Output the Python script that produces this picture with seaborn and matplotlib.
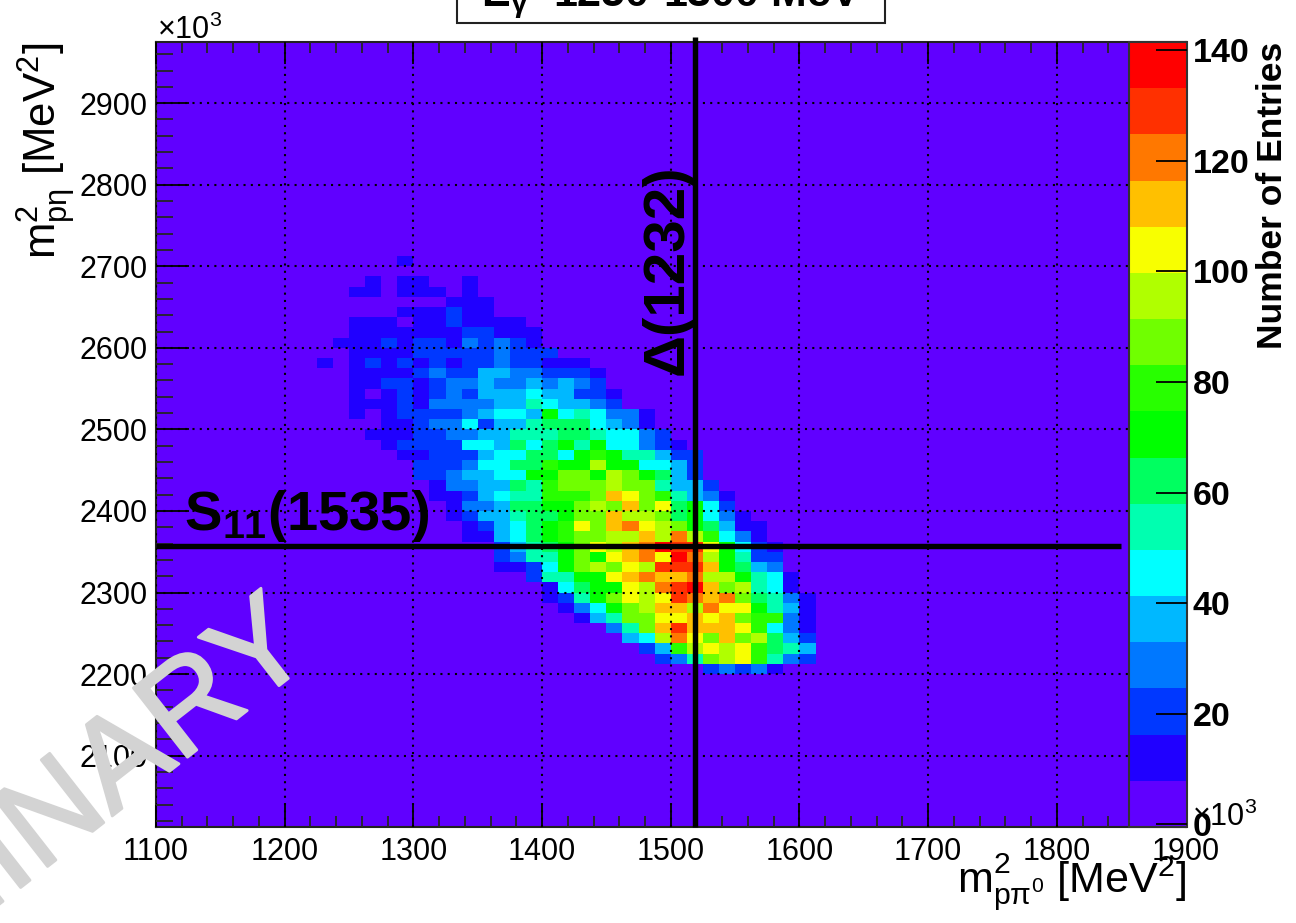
import numpy as np
import pandas as pd
import matplotlib
matplotlib.use('Agg')
import matplotlib.pyplot as plt
import matplotlib.patheffects as pe
from matplotlib.colors import ListedColormap
from matplotlib.patches import Rectangle
import seaborn as sns

# colour bands of the palette, bottom to top
band_colors = ['#6000ff', '#2000ff', '#0038ff', '#0078ff', '#00b8ff', '#00ffff',
               '#00ffb0', '#00ff60', '#00ff00', '#28ff00', '#70ff00', '#b0ff00',
               '#f8ff00', '#ffc000', '#ff7800', '#ff3000', '#ff0000']

x_ticks = [1100, 1200, 1300, 1400, 1500, 1600, 1700, 1800, 1900]
y_ticks = [2100, 2200, 2300, 2400, 2500, 2600, 2700, 2800, 2900]
z_ticks = [0, 20, 40, 60, 80, 100, 120, 140]

delta_m2 = 1519
s11_m2 = 2357

# row number (bottom edge = 2000 + 12.5*row), first x bin (left edge = 1100 + 12.5*bin)
row_ids = [16, 17, 18, 19, 20, 21, 22, 23, 24, 25, 26, 27, 28, 29, 30, 31, 32, 33, 34, 35, 36,
           37, 38, 39, 40, 41, 42, 43, 44, 45, 46, 47, 48, 49, 50, 51, 52, 53, 54, 56]
row_first_bin = [34, 31, 30, 29, 28, 26, 25, 24, 24, 23, 21, 21, 21, 19, 19, 18, 18, 17, 17, 16, 16,
                 15, 14, 13, 14, 12, 12, 12, 12, 12, 10, 12, 11, 12, 12, 15, 18, 12, 13, 15]
# colour band
row_bands = [
    [2, 3, 2, 3, 1],
    [2, 3, 6, 10, 11, 12, 9, 6, 3, 2],
    [2, 4, 9, 11, 12, 11, 12, 9, 7, 6, 4],
    [4, 5, 11, 14, 12, 10, 13, 10, 11, 7, 4, 2],
    [3, 6, 10, 13, 15, 13, 13, 13, 12, 9, 5, 3, 1],
    [1, 4, 6, 10, 10, 12, 12, 13, 12, 13, 10, 9, 9, 3, 1],
    [1, 3, 5, 8, 10, 11, 13, 13, 11, 14, 12, 12, 8, 6, 4, 1],
    [1, 2, 6, 8, 10, 12, 11, 12, 15, 14, 13, 14, 10, 7, 6, 3, 1],
    [1, 5, 7, 8, 8, 12, 11, 14, 15, 16, 13, 10, 11, 6, 5, 1],
    [2, 6, 6, 8, 8, 12, 13, 14, 13, 13, 14, 11, 11, 8, 6, 5, 1],
    [1, 1, 2, 5, 8, 10, 11, 10, 12, 11, 15, 15, 15, 13, 8, 7, 4, 3],
    [2, 3, 6, 6, 8, 10, 8, 12, 13, 14, 12, 16, 14, 11, 8, 6, 2, 2],
    [2, 4, 6, 7, 8, 10, 12, 11, 13, 14, 16, 15, 15, 12, 8, 5, 2, 1],
    [1, 1, 4, 5, 7, 8, 9, 10, 10, 11, 11, 13, 11, 14, 11, 9, 5, 3, 1],
    [1, 2, 4, 5, 7, 8, 9, 12, 10, 13, 14, 12, 11, 10, 8, 7, 4, 1, 1],
    [1, 2, 4, 4, 6, 7, 7, 8, 10, 10, 13, 11, 11, 10, 7, 8, 5, 3, 1],
    [1, 3, 3, 4, 7, 7, 8, 8, 10, 11, 10, 13, 10, 12, 7, 8, 5, 2],
    [1, 1, 2, 4, 5, 6, 6, 9, 9, 9, 10, 13, 12, 10, 9, 6, 4, 3, 1],
    [1, 3, 3, 4, 4, 7, 6, 9, 10, 10, 10, 11, 10, 10, 6, 4, 4, 2],
    [2, 2, 3, 4, 4, 5, 5, 8, 8, 10, 10, 8, 11, 10, 8, 7, 4, 2],
    [2, 2, 2, 3, 5, 5, 7, 7, 9, 8, 8, 11, 8, 8, 5, 5, 4, 2],
    [1, 1, 2, 2, 2, 4, 5, 5, 7, 7, 5, 8, 9, 8, 6, 6, 4, 2, 2],
    [1, 2, 2, 2, 2, 5, 5, 4, 7, 5, 7, 8, 6, 8, 5, 5, 3, 2, 1],
    [1, 1, 1, 2, 2, 3, 3, 4, 4, 6, 6, 6, 7, 7, 6, 5, 5, 3, 2],
    [1, 1, 2, 3, 3, 5, 2, 4, 4, 6, 7, 7, 7, 5, 4, 3, 1],
    [1, 0, 1, 2, 2, 2, 2, 3, 4, 5, 5, 4, 8, 5, 6, 5, 3, 3, 1],
    [1, 1, 1, 2, 1, 3, 3, 3, 3, 4, 4, 6, 5, 4, 4, 3, 2],
    [1, 0, 1, 2, 1, 2, 3, 2, 4, 4, 4, 5, 4, 4, 2, 2, 1],
    [1, 1, 2, 2, 1, 2, 3, 3, 4, 3, 3, 4, 3, 4, 3, 2],
    [1, 1, 1, 1, 2, 3, 2, 2, 4, 4, 3, 3, 2, 2, 2, 1],
    [1, 0, 1, 2, 1, 2, 1, 2, 1, 2, 2, 3, 2, 2, 1, 1, 1],
    [1, 1, 1, 1, 2, 2, 2, 2, 2, 3, 2, 2, 2],
    [1, 1, 1, 2, 1, 2, 2, 1, 3, 2, 3, 2, 1],
    [1, 1, 1, 1, 1, 1, 1, 2, 2, 1, 1, 1],
    [1, 1, 1, 0, 1, 1, 2, 1, 1, 1, 1],
    [1, 1, 1, 2, 1, 1],
    [1, 1, 1],
    [1, 1, 0, 1, 1, 1, 0, 1],
    [1, 0, 1, 1, 0, 0, 1],
    [1],
]

W, H = 1296, 923
BIN = 12.5
X0, Y0 = 1100, 2012.5
NX, NY = 64, 77
Z0, Z1 = -0.5, 141.5

sns.set_theme(style='ticks')
plt.rcParams['font.family'] = ['Liberation Sans', 'DejaVu Sans']
plt.rcParams['mathtext.fontset'] = 'custom'
plt.rcParams['mathtext.rm'] = 'Liberation Sans'
plt.rcParams['mathtext.it'] = 'Liberation Sans'
plt.rcParams['mathtext.bf'] = 'Liberation Sans:bold'
plt.rcParams['mathtext.default'] = 'regular'


def box(left, top, right, bottom):
    return [left / W, 1 - bottom / H, (right - left) / W, (bottom - top) / H]


def cx(v):
    return (np.asarray(v, dtype=float) - X0) / BIN


def cy(v):
    return (np.asarray(v, dtype=float) - Y0) / BIN


def fpos(px, py):
    return px / W, 1 - py / H


# cell counts from the bands
step = (Z1 - Z0) / len(band_colors)
grid = np.zeros((NY, NX))
grid[:] = Z0 + step / 2
for r, first, bands in zip(row_ids, row_first_bin, row_bands):
    for i, b in enumerate(bands):
        grid[r - 1, first + i] = Z0 + (b + 0.5) * step
df = pd.DataFrame(grid)

fig = plt.figure(figsize=(W / 100, H / 100), dpi=100)
ax = fig.add_axes(box(156, 42, 1185.5, 827))
cax = fig.add_axes(box(1129, 42, 1187, 827))

sns.heatmap(df, ax=ax, cbar_ax=cax, cmap=ListedColormap(band_colors), vmin=Z0, vmax=Z1,
            xticklabels=False, yticklabels=False, cbar_kws={'ticks': z_ticks})
ax.set_xlim(0, NX)
ax.set_ylim(0, NY)
ax.set_xlabel('')
ax.set_ylabel('')

# axis ticks
ax.set_xticks(cx(x_ticks))
ax.set_xticklabels([str(v) for v in x_ticks])
ax.set_yticks(cy(y_ticks))
ax.set_yticklabels([str(v) for v in y_ticks], rotation=0)
ax.set_xticks(cx(np.arange(1100, 1901, 20)), minor=True)
ax.set_yticks(cy(np.arange(2020, 2976, 20)), minor=True)
ax.tick_params(axis='x', which='major', direction='in', length=16, width=1.3, top=True, bottom=True,
               labelsize=22, pad=7, colors='black')
ax.tick_params(axis='x', which='minor', direction='in', length=8, width=1.3, top=True, bottom=True)
ax.tick_params(axis='y', which='major', direction='in', length=24, width=1.3, left=True, right=False,
               labelsize=22, pad=6, colors='black')
ax.tick_params(axis='y', which='minor', direction='in', length=12, width=1.3, left=True, right=False)
ax.grid(True, which='major', color='black', linewidth=1.5, linestyle=(0, (1, 2.5)))
ax.set_axisbelow(False)
for sp in ax.spines.values():
    sp.set_visible(True)
    sp.set_linewidth(1.5)
    sp.set_color('#222222')

# colour scale
cb = ax.collections[0].colorbar
cax.set_axisbelow(False)
cax.tick_params(axis='y', direction='in', length=22.5, width=1.3, right=True, left=False, labelsize=24.5,
                pad=4, colors='black')
for lab in cax.get_yticklabels():
    lab.set_fontweight('bold')
cb.outline.set_visible(True)
cb.outline.set_linewidth(1.5)
cb.outline.set_edgecolor('#333333')

# resonance lines
ax.plot(cx([delta_m2, delta_m2]), cy([Y0, 2981]), color='black', lw=3.9, clip_on=False,
        solid_capstyle='butt', zorder=5)
ax.plot(cx([X0, 1850]), cy([s11_m2, s11_m2]), color='black', lw=3.9, clip_on=False,
        solid_capstyle='butt', zorder=5)

x, y = fpos(184, 530)
fig.text(x, y, 'S$_{11}$(1535)', fontsize=40.5, fontweight='bold', color='black', va='baseline', ha='left')
x, y = fpos(683, 375)
fig.text(x, y, '\u0394(1232)', fontsize=42, fontweight='bold', color='black', rotation=90,
         rotation_mode='anchor', va='baseline', ha='left')

# axis titles
x, y = fpos(1186, 893)
fig.text(x, y, r'm$^2_{p\pi^0}$ [MeV$^2$]', fontsize=31, ha='right', va='baseline', color='black')
x, y = fpos(57, 43)
fig.text(x, y, r'm$^2_{p\eta}$ [MeV$^2$]', fontsize=31.5, ha='right', va='baseline', color='black',
         rotation=90, rotation_mode='anchor')
x, y = fpos(1282, 42)
fig.text(x, y, 'Number of Entries', fontsize=25.5, fontweight='bold', ha='right', va='baseline',
         color='black', rotation=90, rotation_mode='anchor')

# exponents
x, y = fpos(157, 39)
fig.text(x, y, r'$\times$10$^3$', fontsize=22, ha='left', va='baseline', color='black')
x, y = fpos(1192, 826)
fig.text(x, y, r'$\times$10$^3$', fontsize=22, ha='left', va='baseline', color='black')

# title box, cut by the top of the page
fig.add_artist(Rectangle((457 / W, 1 - 23 / H), (885 - 457) / W, 40 / H, transform=fig.transFigure,
                         facecolor='white', edgecolor='#222222', linewidth=1.5))
x, y = fpos(481, 6)
fig.text(x, y, r'E$_{\gamma}$=1250-1300 MeV', fontsize=31, fontweight='bold', ha='left', va='baseline',
         color='black')

# watermark
x, y = fpos(317, 656)
fig.text(x, y, 'PRELIMINARY', fontsize=92, color='#d3d3d3', rotation=38, rotation_mode='anchor',
         ha='right', va='baseline', zorder=20,
         path_effects=[pe.withStroke(linewidth=2, foreground='#d3d3d3')])

plt.savefig('out.png', dpi=100)
plt.close()
